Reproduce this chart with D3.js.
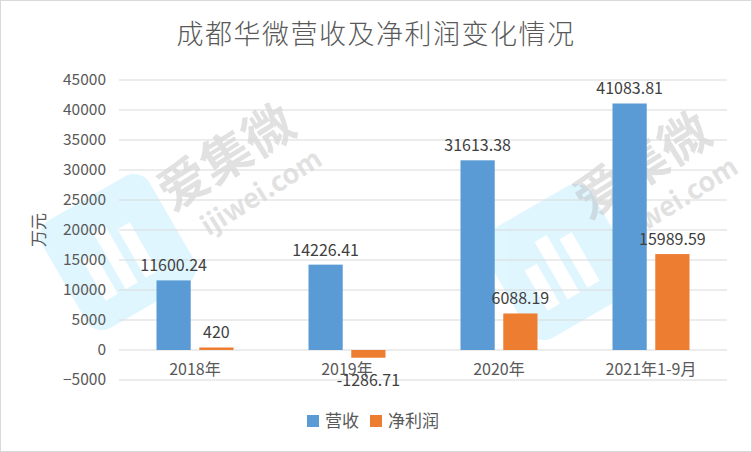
<!DOCTYPE html>
<html>
<head>
<meta charset="utf-8">
<script src="https://cdn.jsdelivr.net/npm/d3@7"></script>
<style>
  body { margin: 0; background: #fff; }
  text { font-family: "Noto Sans CJK SC", "Noto Sans", sans-serif; }
</style>
</head>
<body>
<svg id="chart"></svg>
<script>
var categories = ['2018年', '2019年', '2020年', '2021年1-9月'];
var seriesNames = ['营收', '净利润'];
var revenue = [11600.24, 14226.41, 31613.38, 41083.81];
var profit = [420, -1286.71, 6088.19, 15989.59];
var yTicks = [-5000, 0, 5000, 10000, 15000, 20000, 25000, 30000, 35000, 40000, 45000];

var W = 752, H = 452;
var colors = { '营收': '#5b9bd5', '净利润': '#ed7d31' };

var svg = d3.select('#chart')
    .attr('width', W)
    .attr('height', H);

// chart border
svg.append('rect')
    .attr('x', 0.5).attr('y', 0.5)
    .attr('width', W - 1).attr('height', H - 1)
    .attr('fill', '#fff')
    .attr('stroke', '#d9d9d9');

// watermark (ijiwei)
function logo(cx, cy) {
    var g = svg.append('g')
        .attr('transform', 'translate(' + cx + ',' + cy + ') rotate(-30)')
        .attr('opacity', 0.55);
    g.append('rect')
        .attr('x', -62).attr('y', -62)
        .attr('width', 124).attr('height', 124)
        .attr('rx', 18)
        .attr('fill', '#c8f0ff');
    [[-35, -10, 46], [-12, -30, 66], [11, -20, 56]].forEach(function (b) {
        g.append('rect')
            .attr('x', b[0]).attr('y', b[1])
            .attr('width', 14).attr('height', b[2])
            .attr('fill', '#fff');
    });
}
function mark(x, y) {
    var g = svg.append('g')
        .attr('transform', 'translate(' + x + ',' + y + ') rotate(-32)')
        .attr('fill', '#9e9e9e')
        .attr('opacity', 0.3);
    g.append('text')
        .attr('font-size', 50)
        .attr('font-weight', 'bold')
        .text('爱集微');
    g.append('text')
        .attr('x', 18).attr('y', 40)
        .attr('font-size', 27)
        .attr('font-weight', 'bold')
        .text('ijiwei.com');
}
logo(118, 252);
logo(560, 262);
mark(172, 212);
mark(588, 220);

var margin = { top: 80, left: 119, right: 25 };
var plotRight = W - margin.right;

var y = d3.scaleLinear()
    .domain([-5000, 45000])
    .range([380, 80]);

var x0 = d3.scaleBand()
    .domain(categories)
    .range([margin.left, plotRight])
    .padding(0);

var bw = x0.bandwidth();
var x1 = d3.scaleBand()
    .domain(seriesNames)
    .range([bw / 2 - 38.5, bw / 2 + 38.5])
    .paddingInner(0.2);

// gridlines
svg.append('g')
    .selectAll('line')
    .data(yTicks)
    .join('line')
    .attr('x1', margin.left)
    .attr('x2', plotRight)
    .attr('y1', d => y(d))
    .attr('y2', d => y(d))
    .attr('stroke', '#d9d9d9')
    .attr('stroke-width', 1.2);

// y tick labels
var yAxis = d3.axisLeft(y)
    .tickValues(yTicks)
    .tickSize(0)
    .tickPadding(13)
    .tickFormat(d3.format('d'));

var gy = svg.append('g')
    .attr('transform', 'translate(' + margin.left + ',0)')
    .call(yAxis);
gy.select('.domain').remove();
gy.selectAll('text')
    .attr('fill', '#595959')
    .attr('font-size', 15.5)
    .attr('font-family', '"Noto Sans", sans-serif');

// x category labels
var xAxis = d3.axisBottom(x0).tickSize(0).tickPadding(14);
var gx = svg.append('g')
    .attr('transform', 'translate(0,' + y(0) + ')')
    .call(xAxis);
gx.select('.domain').remove();
gx.selectAll('text')
    .attr('fill', '#595959')
    .attr('font-size', 16);

// bars
var rows = categories.map((c, i) => ({
    cat: c,
    values: [
        { key: '营收', value: revenue[i] },
        { key: '净利润', value: profit[i] }
    ]
}));

var groups = svg.append('g')
    .selectAll('g')
    .data(rows)
    .join('g')
    .attr('transform', d => 'translate(' + x0(d.cat) + ',0)');

groups.selectAll('rect')
    .data(d => d.values)
    .join('rect')
    .attr('x', d => x1(d.key))
    .attr('width', x1.bandwidth())
    .attr('y', d => y(Math.max(0, d.value)))
    .attr('height', d => Math.abs(y(d.value) - y(0)))
    .attr('fill', d => colors[d.key]);

groups.selectAll('text.lbl')
    .data(d => d.values)
    .join('text')
    .attr('class', 'lbl')
    .attr('x', d => x1(d.key) + x1.bandwidth() / 2)
    .attr('y', d => d.value >= 0 ? y(d.value) - 9 : y(d.value) + 28)
    .attr('text-anchor', 'middle')
    .attr('fill', '#404040')
    .attr('font-size', 16)
    .attr('font-family', '"Noto Sans", sans-serif')
    .text(d => d.value);

// y axis title
svg.append('text')
    .attr('transform', 'translate(45,230) rotate(-90)')
    .attr('text-anchor', 'middle')
    .attr('fill', '#595959')
    .attr('font-size', 17)
    .text('万元');

// title
svg.append('text')
    .attr('x', 376)
    .attr('y', 44)
    .attr('text-anchor', 'middle')
    .attr('fill', '#595959')
    .attr('font-size', 27)
    .attr('font-weight', 300)
    .attr('letter-spacing', 1.5)
    .text('成都华微营收及净利润变化情况');

// legend
var legend = svg.append('g')
    .selectAll('g')
    .data(seriesNames)
    .join('g')
    .attr('transform', (d, i) => 'translate(' + [307, 370][i] + ',415)');
legend.append('rect')
    .attr('width', 12).attr('height', 12)
    .attr('fill', d => colors[d]);
legend.append('text')
    .attr('x', 18).attr('y', 12)
    .attr('fill', '#595959')
    .attr('font-size', 17)
    .text(d => d);
</script>
</body>
</html>
